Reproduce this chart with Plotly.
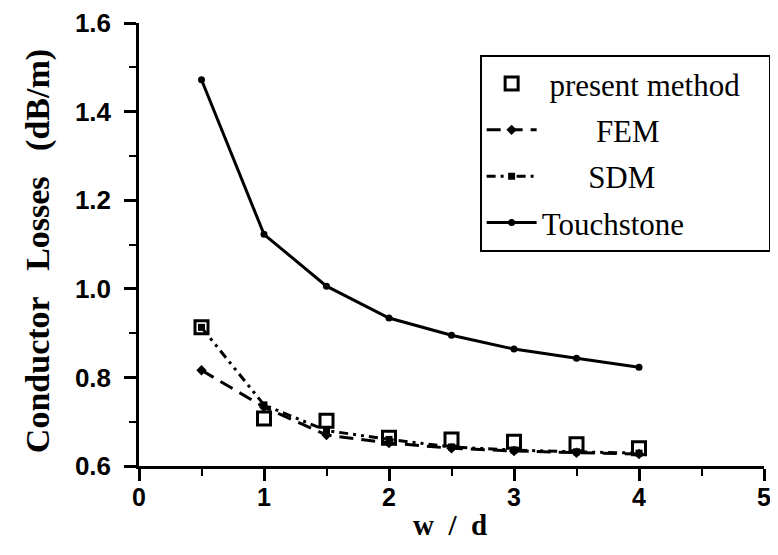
import plotly.graph_objects as go

# ---- data ----
wd = [0.5, 1.0, 1.5, 2.0, 2.5, 3.0, 3.5, 4.0]
present_method = [0.913, 0.707, 0.702, 0.664, 0.660, 0.655, 0.649, 0.640]
fem = [0.816, 0.733, 0.670, 0.652, 0.640, 0.634, 0.630, 0.627]
sdm = [0.913, 0.738, 0.680, 0.660, 0.643, 0.636, 0.632, 0.629]
touchstone = [1.472, 1.123, 1.006, 0.934, 0.895, 0.864, 0.843, 0.823]

x_ticks = [0, 1, 2, 3, 4, 5]
y_ticks = [0.6, 0.8, 1.0, 1.2, 1.4, 1.6]
x_title = "w / d"
y_title = "Conductor Losses (dB/m)"

NB = "\u00a0"
serif = "Liberation Serif, Times New Roman, serif"
sans = "Liberation Sans, Arial, sans-serif"

fig = go.Figure()

fig.add_trace(go.Scatter(
    x=wd, y=present_method, name=NB + "present method" + NB * 3, mode="markers",
    legendgroup="a",
    marker=dict(symbol="square-open", size=13, color="black", line=dict(width=3, color="black")),
))
fig.add_trace(go.Scatter(
    x=wd, y=fem, name=NB * 7 + "FEM", mode="lines+markers", legendgroup="b",
    line=dict(color="black", width=3, dash="14px,8px"),
    marker=dict(symbol="diamond", size=8, color="black"),
))
fig.add_trace(go.Scatter(
    x=wd, y=sdm, name=NB * 6 + "SDM", mode="lines+markers", legendgroup="c",
    line=dict(color="black", width=3, dash="9px,5px,3px,5px,3px,5px"),
    marker=dict(symbol="square", size=7, color="black"),
))
fig.add_trace(go.Scatter(
    x=wd, y=touchstone, name="Touchstone", mode="lines+markers", legendgroup="d",
    line=dict(color="black", width=3),
    marker=dict(symbol="circle", size=7, color="black"),
))

fig.update_layout(
    width=778, height=555,
    paper_bgcolor="white", plot_bgcolor="white",
    margin=dict(l=131, r=22, t=15, b=97, autoexpand=False),
    showlegend=True,
    legend=dict(
        x=0.545, y=0.928, xanchor="left", yanchor="top",
        bordercolor="black", borderwidth=2, bgcolor="white",
        font=dict(family=serif, size=31, color="black"),
        traceorder="grouped", tracegroupgap=3, itemwidth=50,
    ),
    xaxis=dict(
        range=[0, 5], tickvals=x_ticks, ticktext=[str(v) for v in x_ticks],
        showline=True, linecolor="black", linewidth=2.5,
        ticks="outside", ticklen=12, tickwidth=2.5, tickcolor="black",
        minor=dict(dtick=0.5, ticks="outside", ticklen=7, tickwidth=2, tickcolor="black"),
        showgrid=False, zeroline=False,
        tickfont=dict(family=sans, size=25, color="black", weight="bold"),
        ticklabelstandoff=-5,
    ),
    yaxis=dict(
        range=[0.6, 1.6], tickvals=y_ticks, ticktext=[f"{v:.1f}" for v in y_ticks],
        showline=True, linecolor="black", linewidth=2.5,
        ticks="outside", ticklen=12, tickwidth=2.5, tickcolor="black",
        minor=dict(dtick=0.1, ticks="outside", ticklen=7, tickwidth=2, tickcolor="black"),
        showgrid=False, zeroline=False,
        tickfont=dict(family=sans, size=26, color="black", weight="bold"),
        ticklabelstandoff=8,
    ),
    annotations=[
        dict(text=y_title.replace(" ", NB * 3), xref="paper", yref="paper",
             x=-0.1616, y=0.485, xanchor="center", yanchor="middle",
             textangle=-90, showarrow=False,
             font=dict(family=serif, size=34, color="black", weight="bold")),
        dict(text=x_title.replace(" ", NB * 2), xref="paper", yref="paper",
             x=0.4976, y=-0.134, xanchor="center", yanchor="middle",
             showarrow=False,
             font=dict(family=serif, size=29, color="black", weight="bold")),
    ],
)

fig.write_html("out.html")
